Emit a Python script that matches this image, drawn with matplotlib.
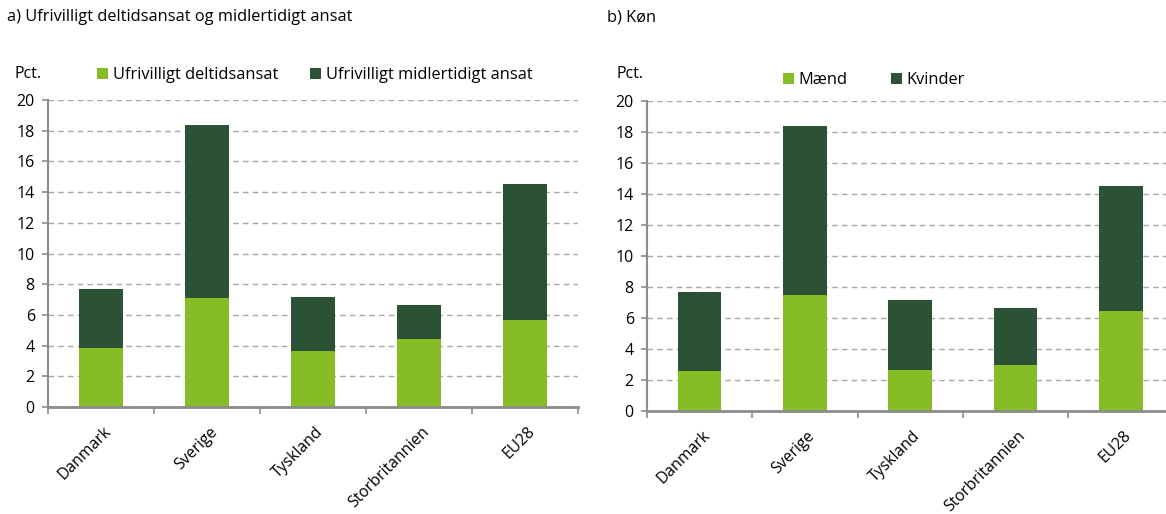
"""Ufrivilligt deltids- og midlertidigt ansatte, samt fordelt på køn."""

import matplotlib

matplotlib.use("Agg")

import matplotlib.pyplot as plt
import numpy as np

plt.rcParams["font.family"] = ["Open Sans", "DejaVu Sans"]

COUNTRIES = ["Danmark", "Sverige", "Tyskland", "Storbritannien", "EU28"]

# panel a
DELTID = [3.85, 7.1, 3.65, 4.45, 5.7]
MIDLERTIDIG = [3.85, 11.3, 3.5, 2.2, 8.8]

# panel b
MAEND = [2.6, 7.5, 2.65, 2.95, 6.45]
KVINDER = [5.1, 10.9, 4.5, 3.7, 8.05]

LIGHT = "#86bc25"
DARK = "#2b5234"
AXIS_GREY = "#8c8c8c"
W, H = 1166, 514


def draw_panel(ax, bottom_vals, top_vals, xmax):
    x = np.arange(len(COUNTRIES))
    b1 = ax.bar(x, bottom_vals, width=0.415, color=LIGHT, zorder=3)
    b2 = ax.bar(x, top_vals, width=0.415, bottom=bottom_vals, color=DARK, zorder=3)
    ax.set_ylim(0, 20)
    ax.set_xlim(-0.5, xmax)
    ax.set_yticks(range(0, 21, 2))
    ax.grid(axis="y", color="#a8a8a8", linestyle=(0, (4, 3)), linewidth=1.0, zorder=0)
    for side in ("top", "right"):
        ax.spines[side].set_visible(False)
    ax.spines["left"].set_color(AXIS_GREY)
    ax.spines["left"].set_linewidth(1.5)
    ax.spines["bottom"].set_color(AXIS_GREY)
    ax.spines["bottom"].set_linewidth(2.0)
    ax.spines["bottom"].set_zorder(4)
    ax.tick_params(axis="y", length=4.5, width=1.2, color=AXIS_GREY, labelsize=11.5, pad=5)
    # category separators as major ticks, names as minor ticks
    ax.set_xticks(np.arange(-0.5, len(COUNTRIES), 1.0))
    ax.set_xticklabels([])
    ax.tick_params(axis="x", which="major", length=5, width=1.2, color=AXIS_GREY)
    ax.set_xticks(x + 0.02, minor=True)
    ax.set_xticklabels(COUNTRIES, minor=True, rotation=45, ha="right",
                       rotation_mode="anchor", fontsize=11.3)
    ax.tick_params(axis="x", which="minor", length=0, pad=12)
    return b1, b2


fig = plt.figure(figsize=(W / 100, H / 100), dpi=100)

ax1 = fig.add_axes([48 / W, 1 - 407 / H, (578 - 48) / W, (407 - 100) / H])
h1 = draw_panel(ax1, DELTID, MIDLERTIDIG, 4.5)

ax2 = fig.add_axes([647 / W, 1 - 411 / H, 5.3 * 105.3 / W, (411 - 101) / H])
h2 = draw_panel(ax2, MAEND, KVINDER, 4.8)

fig.text(7 / W, 1 - 17 / H, "a) Ufrivilligt deltidsansat og midlertidigt ansat",
         fontsize=11.8, va="center", ha="left")
fig.text(607 / W, 1 - 17 / H, "b) Køn", fontsize=11.8, va="center", ha="left")
fig.text(15 / W, 1 - 74 / H, "Pct.", fontsize=11.5, va="center", ha="left")
fig.text(616 / W, 1 - 74 / H, "Pct.", fontsize=11.5, va="center", ha="left")

leg_kw = dict(frameon=False, fontsize=11.8, handlelength=0.7, handleheight=0.7,
              handletextpad=0.25, borderaxespad=0, borderpad=0, loc="center left")
entries = [
    (h1[0], "Ufrivilligt deltidsansat", 97, 75),
    (h1[1], "Ufrivilligt midlertidigt ansat", 310, 75),
    (h2[0], "Mænd", 783, 80),
    (h2[1], "Kvinder", 891, 80),
]
for handle, label, px, py in entries:
    fig.legend(handles=[handle], labels=[label],
               bbox_to_anchor=(px / W, 1 - py / H), **leg_kw)

fig.savefig("out.png", dpi=100)
plt.close(fig)
